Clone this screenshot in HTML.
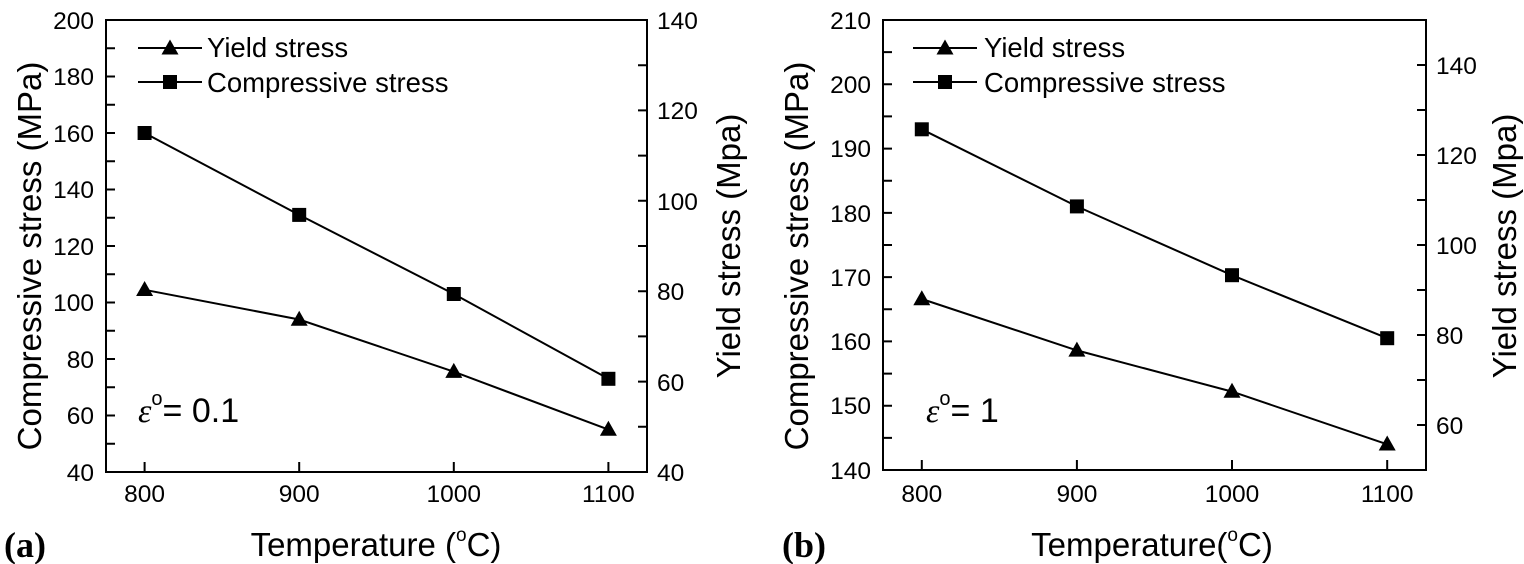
<!DOCTYPE html>
<html><head><meta charset="utf-8"><style>
html,body{margin:0;padding:0;background:#fff;}
svg{display:block;}
text{font-family:"Liberation Sans",Arial,sans-serif;fill:#000;}
</style></head><body>
<svg width="1524" height="564" viewBox="0 0 1524 564" xmlns="http://www.w3.org/2000/svg">
<g stroke="#000" stroke-width="2" fill="none">
<rect x="106" y="20" width="541" height="452"/>
<path d="M106 20h9M106 48.25h9M106 76.5h9M106 104.75h9M106 133h9M106 161.25h9M106 189.5h9M106 217.75h9M106 246h9M106 274.25h9M106 302.5h9M106 330.75h9M106 359h9M106 387.25h9M106 415.5h9M106 443.75h9"/>
<path d="M647 65.2h-9M647 110.4h-9M647 155.6h-9M647 200.8h-9M647 246h-9M647 291.2h-9M647 336.4h-9M647 381.6h-9M647 426.8h-9"/>
<path d="M144.6 472v-10M299.2 472v-10M453.8 472v-10M608.4 472v-10"/>
<polyline points="144.6,133 299.2,214.9 453.8,294 608.4,378.8"/>
<polyline points="144.6,289.8 299.2,319.5 453.8,371.7 608.4,429.6"/>
<path d="M138 48h64M138 82h64"/>
<rect x="883" y="20" width="543" height="450"/>
<path d="M883 52.1h9M883 84.3h9M883 116.4h9M883 148.6h9M883 180.7h9M883 212.9h9M883 245h9M883 277.1h9M883 309.3h9M883 341.4h9M883 373.6h9M883 405.7h9M883 437.9h9"/>
<path d="M1426 65h-9M1426 110h-9M1426 155h-9M1426 200h-9M1426 245h-9M1426 290h-9M1426 335h-9M1426 380h-9M1426 425h-9"/>
<path d="M921.8 470v-10M1076.9 470v-10M1232 470v-10M1387.2 470v-10"/>
<polyline points="921.8,129.3 1076.9,206.4 1232,275.2 1387.2,338.2"/>
<polyline points="921.8,299 1076.9,350.4 1232,391.6 1387.2,444.3"/>
<path d="M913 48h64M913 82h64"/>
</g>
<g fill="#000">
<rect x="137.6" y="126" width="14" height="14"/><rect x="292.2" y="207.9" width="14" height="14"/><rect x="446.8" y="287" width="14" height="14"/><rect x="601.4" y="371.8" width="14" height="14"/>
<rect x="163" y="75" width="14" height="14"/>
<path d="M144.6 281l8.5 15h-17z M299.2 310.7l8.5 15h-17z M453.8 362.9l8.5 15h-17z M608.4 420.8l8.5 15h-17z M170 39.5l8.5 15h-17z"/>
<rect x="914.8" y="122.3" width="14" height="14"/><rect x="1069.9" y="199.4" width="14" height="14"/><rect x="1225" y="268.2" width="14" height="14"/><rect x="1380.2" y="331.2" width="14" height="14"/>
<rect x="938" y="75" width="14" height="14"/>
<path d="M921.8 290.2l8.5 15h-17z M1076.9 341.6l8.5 15h-17z M1232 382.8l8.5 15h-17z M1387.2 435.5l8.5 15h-17z M945 39.5l8.5 15h-17z"/>
</g>
<g font-size="24.5" text-anchor="end">
<text x="94" y="29">200</text><text x="94" y="85">180</text><text x="94" y="142">160</text><text x="94" y="198">140</text><text x="94" y="255">120</text><text x="94" y="311">100</text><text x="94" y="368">80</text><text x="94" y="424">60</text><text x="94" y="481">40</text>
<text x="871" y="29">210</text><text x="871" y="93">200</text><text x="871" y="157">190</text><text x="871" y="222">180</text><text x="871" y="286">170</text><text x="871" y="350">160</text><text x="871" y="414">150</text><text x="871" y="479">140</text>
</g>
<g font-size="24.5">
<text x="657" y="29">140</text><text x="657" y="119">120</text><text x="657" y="210">100</text><text x="657" y="300">80</text><text x="657" y="391">60</text><text x="657" y="481">40</text>
<text x="1436" y="74">140</text><text x="1436" y="164">120</text><text x="1436" y="254">100</text><text x="1436" y="344">80</text><text x="1436" y="434">60</text>
</g>
<g font-size="24.5" text-anchor="middle">
<text x="144.6" y="502">800</text><text x="299.2" y="502">900</text><text x="453.8" y="502">1000</text><text x="608.4" y="502">1100</text>
<text x="921.8" y="502">800</text><text x="1076.9" y="502">900</text><text x="1232" y="502">1000</text><text x="1387.2" y="502">1100</text>
</g>
<g font-size="27.5">
<text x="207" y="57">Yield stress</text><text x="207" y="92">Compressive stress</text>
<text x="984" y="57">Yield stress</text><text x="984" y="92">Compressive stress</text>
</g>
<g font-size="33" text-anchor="middle">
<text transform="translate(41,256) rotate(-90)">Compressive stress (MPa)</text>
<text transform="translate(740,246) rotate(-90)">Yield stress (Mpa)</text>
<text transform="translate(808,256) rotate(-90)">Compressive stress (MPa)</text>
<text transform="translate(1516,246) rotate(-90)">Yield stress (Mpa)</text>
<text x="376" y="556">Temperature (<tspan font-size="19" dy="-15">o</tspan><tspan dy="15">C)</tspan></text>
<text x="1152" y="556">Temperature(<tspan font-size="19" dy="-15">o</tspan><tspan dy="15">C)</tspan></text>
</g>
<text x="4" y="557" font-weight="bold" font-size="36" style="font-family:'Liberation Serif',serif">(a)</text>
<text x="782" y="557" font-weight="bold" font-size="36" style="font-family:'Liberation Serif',serif">(b)</text>
<text x="138" y="422" font-size="34"><tspan font-style="italic" style="font-family:'Liberation Serif',serif">ε</tspan><tspan font-size="20" dy="-17">o</tspan><tspan dy="17">= 0.1</tspan></text>
<text x="926" y="422" font-size="34"><tspan font-style="italic" style="font-family:'Liberation Serif',serif">ε</tspan><tspan font-size="20" dy="-17">o</tspan><tspan dy="17">= 1</tspan></text>
</svg>
</body></html>
